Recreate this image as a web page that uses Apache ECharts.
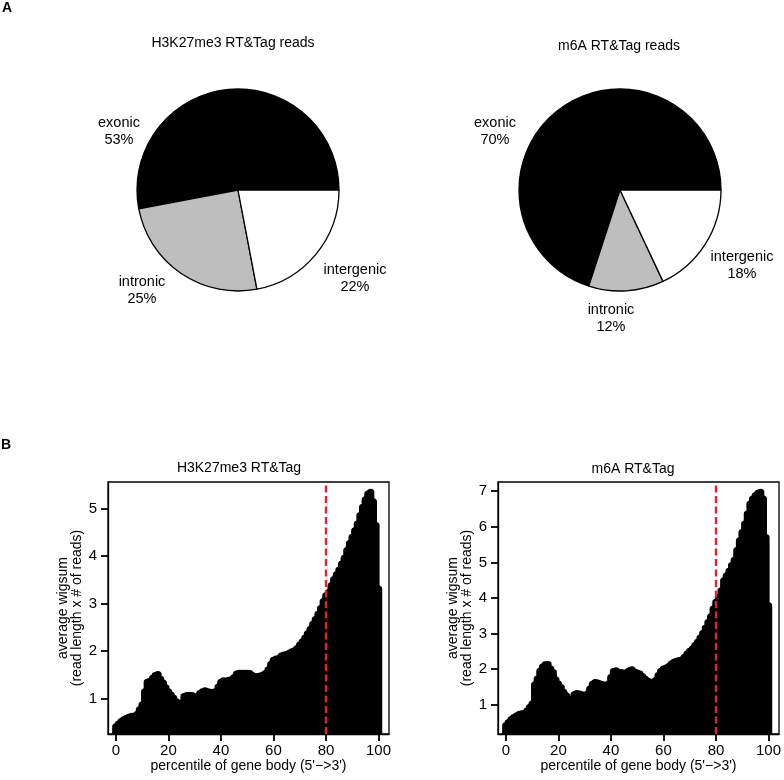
<!DOCTYPE html>
<html>
<head>
<meta charset="utf-8">
<script src="https://cdn.jsdelivr.net/npm/echarts@6/dist/echarts.min.js"></script>
<style>
html,body{margin:0;padding:0;background:#fff;}
#c{width:784px;height:780px;}
</style>
</head>
<body>
<div id="c"></div>
<script>
// ---------- data ----------
const pieCategories = ['exonic', 'intronic', 'intergenic'];
const pieColors = ['#000000', '#bebebe', '#ffffff'];
const h3k27Pie = [53, 25, 22];
const m6aPie = [70, 12, 18];

const percentiles = Array.from({length: 101}, (_, i) => i);
const h3k27Profile = [
  0.48,0.54,0.59,0.63,0.66,0.68,0.70,0.70,0.74,0.84,
  0.94,1.22,1.42,1.44,1.50,1.56,1.58,1.48,1.40,1.30,
  1.22,1.15,1.08,1.01,0.98,0.93,1.12,1.14,1.14,1.14,
  1.10,1.12,1.18,1.22,1.24,1.22,1.21,1.21,1.22,1.32,
  1.42,1.45,1.44,1.46,1.47,1.52,1.59,1.61,1.61,1.61,
  1.61,1.60,1.56,1.54,1.54,1.55,1.57,1.60,1.68,1.79,
  1.88,1.91,1.92,1.97,1.99,2.00,2.03,2.06,2.08,2.13,
  2.20,2.27,2.35,2.44,2.53,2.64,2.74,2.85,2.97,3.12,
  3.24,3.31,3.45,3.58,3.68,3.78,3.91,4.03,4.19,4.34,
  4.47,4.61,4.75,4.93,5.10,5.26,5.38,5.42,5.22,4.72,
  3.38
];
const m6aProfile = [
  0.51,0.60,0.68,0.74,0.78,0.82,0.84,0.85,0.92,1.02,
  1.12,1.66,1.82,2.04,2.16,2.22,2.23,2.10,2.00,1.80,
  1.68,1.58,1.45,1.35,1.26,1.17,1.38,1.41,1.40,1.38,
  1.34,1.40,1.54,1.67,1.72,1.71,1.68,1.66,1.63,1.68,
  1.86,2.03,2.05,2.00,2.00,1.97,2.00,2.05,2.08,2.02,
  1.99,1.96,1.89,1.82,1.76,1.73,1.73,1.78,1.92,2.04,
  2.10,2.13,2.17,2.24,2.29,2.32,2.34,2.36,2.43,2.52,
  2.60,2.66,2.76,2.85,2.97,3.10,3.25,3.41,3.57,3.79,
  3.98,4.12,4.30,4.58,4.72,4.85,5.01,5.16,5.43,5.71,
  5.94,6.18,6.46,6.74,6.88,6.97,7.04,7.07,6.88,5.80,
  3.88
];
const xTicks = [0, 20, 40, 60, 80, 100];
const h3k27YTicks = [1, 2, 3, 4, 5];
const m6aYTicks = [1, 2, 3, 4, 5, 6, 7];
const cutoff = 80;

const pieTitles = ['H3K27me3 RT&Tag reads', 'm6A RT&Tag reads'];
const profileTitles = ['H3K27me3 RT&Tag', 'm6A RT&Tag'];
const xName = "percentile of gene body (5'\u2212>3')";
const yName = 'average wigsum\n(read length x # of reads)';

// ---------- layout ----------
const FONT = 'Liberation Sans, Arial, sans-serif';
const pieLabelPos = [
  [[119, 131], [142, 290], [355, 278]],
  [[495, 131], [611, 318], [742, 265]]
];

function pieSeries(idx, values, cx) {
  return {
    type: 'pie',
    center: [cx, 190],
    radius: 101,
    startAngle: 0,
    clockwise: false,
    animation: false,
    silent: true,
    data: pieCategories.map((c, i) => ({name: c, value: values[i], itemStyle: {color: pieColors[i]}})),
    itemStyle: {borderColor: '#000', borderWidth: 1.3},
    label: {
      show: true,
      position: 'outside',
      overflow: 'none',
      color: '#000',
      fontFamily: FONT,
      fontSize: 14.5,
      lineHeight: 17,
      align: 'center',
      formatter: p => p.name + '\n' + Math.round(p.percent) + '%'
    },
    labelLine: {show: false},
    labelLayout: p => ({
      x: pieLabelPos[idx][p.dataIndex][0],
      y: pieLabelPos[idx][p.dataIndex][1],
      align: 'center',
      verticalAlign: 'middle'
    })
  };
}

function grid(left) {
  return {left: left, top: 482, width: 281, height: 252, show: true, borderColor: '#000', borderWidth: 1.3, backgroundColor: 'transparent', containLabel: false, outerBoundsMode: 'none'};
}
const axisLineStyle = {show: true, onZero: false, lineStyle: {color: '#000', width: 1.3}};
const tickStyle = (vals) => ({show: true, length: 7, inside: false, lineStyle: {color: '#000', width: 1.8}, customValues: vals});
function xAxis(gi) {
  return {
    type: 'value', gridIndex: gi, min: -3, max: 104, position: 'bottom',
    name: xName, nameLocation: 'middle', nameGap: 25,
    nameTextStyle: {fontFamily: FONT, fontSize: 14, color: '#000'},
    axisLine: axisLineStyle,
    axisTick: tickStyle(xTicks),
    axisLabel: {show: true, margin: 9, fontFamily: FONT, fontSize: 15, color: '#000', customValues: xTicks},
    splitLine: {show: false}
  };
}
function yAxis(gi, min, max, ticks) {
  return {
    type: 'value', gridIndex: gi, min: min, max: max, position: 'left',
    name: yName, nameLocation: 'middle', nameGap: 24, nameRotate: 90,
    nameTextStyle: {fontFamily: FONT, fontSize: 14, lineHeight: 14, color: '#000'},
    axisLine: axisLineStyle,
    axisTick: tickStyle(ticks),
    axisLabel: {show: true, margin: 11, fontFamily: FONT, fontSize: 15, color: '#000', customValues: ticks},
    splitLine: {show: false}
  };
}
function barSeries(gi, values) {
  return {
    type: 'bar', xAxisIndex: gi, yAxisIndex: gi,
    data: percentiles.map((p, i) => [p, values[i]]),
    barWidth: 7.5,
    itemStyle: {color: '#000', borderRadius: [3.75, 3.75, 0, 0]},
    clip: true,
    silent: true,
    animation: false,
    markLine: {
      silent: true, symbol: 'none', animation: false,
      label: {show: false},
      lineStyle: {color: '#e0242e', width: 2.4, type: [7, 3.5]},
      data: [{xAxis: cutoff}]
    },
    z: 2
  };
}

const text = (t, x, y, size, weight) => ({
  type: 'text', x: x, y: y, silent: true,
  style: {text: t, font: (weight || 'normal') + ' ' + size + 'px ' + FONT, fill: '#000', align: 'center', verticalAlign: 'middle'}
});

const chart = echarts.init(document.getElementById('c'), null, {renderer: 'canvas'});
chart.setOption({
  backgroundColor: '#fff',
  animation: false,
  graphic: [
    text('A', 7, 8, 14, 'bold'),
    text('B', 6, 445, 14, 'bold'),
    text(pieTitles[0], 233, 43, 14),
    text(pieTitles[1], 619, 46, 14),
    text(profileTitles[0], 239, 468, 14),
    text(profileTitles[1], 633, 469, 14)
  ],
  grid: [grid(108), grid(498)],
  xAxis: [xAxis(0), xAxis(1)],
  yAxis: [yAxis(0, 0.255, 5.56, h3k27YTicks), yAxis(1, 0.175, 7.26, m6aYTicks)],
  series: [
    pieSeries(0, h3k27Pie, 238),
    pieSeries(1, m6aPie, 620),
    barSeries(0, h3k27Profile),
    barSeries(1, m6aProfile)
  ]
});
</script>
</body>
</html>
